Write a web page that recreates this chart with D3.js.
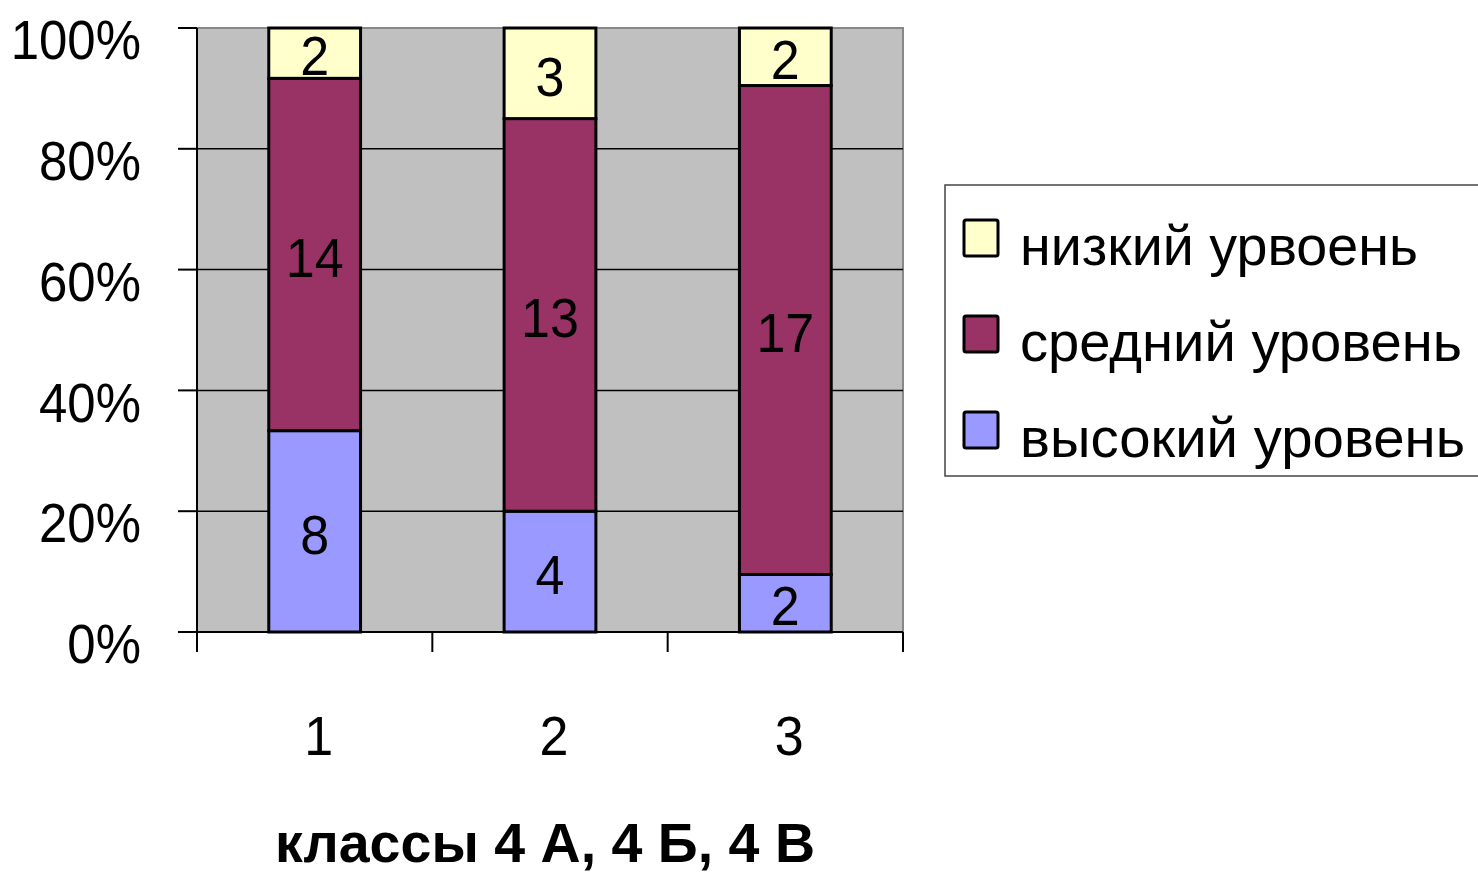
<!DOCTYPE html>
<html><head><meta charset="utf-8">
<script src="https://cdn.jsdelivr.net/npm/d3@7"></script>
<style>body{margin:0;background:#fff}svg{display:block}text{font-family:"Liberation Sans",Arial,sans-serif}</style>
</head><body>
<svg id="c" width="1478" height="873"></svg>
<script>
const categories = ["1","2","3"];
const seriesNames = ["высокий уровень","средний уровень","низкий урвоень"];
const high = [8,4,2];
const mid = [14,13,17];
const low = [2,3,2];
const yTicks = [0,0.2,0.4,0.6,0.8,1];
const colors = ["#9999FF","#993366","#FFFFCC"];
const xTitle = "классы 4 А, 4 Б, 4 В";

const svg = d3.select("#c");
const L=197, R=903, T=28, B=632;
const x = d3.scaleBand().domain(categories).range([L,R]).paddingInner(0.61).paddingOuter(0.305);
const y = d3.scaleLinear().domain([0,1]).range([B,T]);

svg.append("rect").attr("x",L).attr("y",T).attr("width",R-L).attr("height",B-T).attr("fill","#C0C0C0");
svg.append("path").attr("d",`M${L},${T}H${R}V${B}`).attr("fill","none").attr("stroke","#888").attr("stroke-width",2);

svg.append("g").selectAll("line").data(yTicks.slice(1,-1)).join("line")
  .attr("x1",L).attr("x2",R).attr("y1",d=>y(d)).attr("y2",d=>y(d)).attr("stroke","#000").attr("stroke-width",1.5);

const rows = categories.map((c,i)=>({cat:c, vals:[high[i],mid[i],low[i]]}));
const stackData = rows.map(r=>{const tot=d3.sum(r.vals);let acc=0;return r.vals.map((v,k)=>{const s={cat:r.cat,k,v,y0:acc/tot,y1:(acc+v)/tot};acc+=v;return s;});}).flat();

const g = svg.append("g");
g.selectAll("rect").data(stackData).join("rect")
  .attr("x",d=>x(d.cat)).attr("width",x.bandwidth())
  .attr("y",d=>y(d.y1)).attr("height",d=>y(d.y0)-y(d.y1))
  .attr("fill",d=>colors[d.k]).attr("stroke","#000").attr("stroke-width",3);
g.selectAll("text").data(stackData).join("text")
  .attr("x",d=>x(d.cat)+x.bandwidth()/2).attr("y",d=>(y(d.y0)+y(d.y1))/2+2)
  .attr("dy","0.36em").attr("text-anchor","middle").attr("font-size",52).attr("fill","#000")
  .attr("transform-origin",d=>`${x(d.cat)+x.bandwidth()/2} ${(y(d.y0)+y(d.y1))/2+2}`)
  .attr("transform","scale(1,1.08)")
  .text(d=>d.v);

svg.append("line").attr("x1",L).attr("x2",L).attr("y1",T).attr("y2",B+20).attr("stroke","#000").attr("stroke-width",2);
svg.append("line").attr("x1",L).attr("x2",R).attr("y1",B).attr("y2",B).attr("stroke","#000").attr("stroke-width",2);
svg.append("g").selectAll("line").data(yTicks).join("line")
  .attr("x1",178).attr("x2",L).attr("y1",d=>y(d)).attr("y2",d=>y(d)).attr("stroke","#000").attr("stroke-width",2);
svg.append("g").selectAll("text").data(yTicks).join("text")
  .attr("x",141).attr("y",d=>y(d)+11).attr("dy","0.36em").attr("text-anchor","end")
  .attr("font-size",52).attr("transform-origin",d=>`141 ${y(d)+11}`).attr("transform","scale(0.98,1.08)")
  .text(d=>d3.format(".0%")(d));

const bounds = [L, ...categories.map(c=>x(c)-x.step()*x.paddingInner()/2+x.step())];
svg.append("g").selectAll("line").data(bounds).join("line")
  .attr("x1",d=>d).attr("x2",d=>d).attr("y1",B).attr("y2",B+20).attr("stroke","#000").attr("stroke-width",2);
svg.append("g").selectAll("text").data(categories).join("text")
  .attr("x",d=>x(d)+x.bandwidth()/2+4).attr("y",735).attr("dy","0.36em").attr("text-anchor","middle")
  .attr("font-size",52).attr("transform-origin",d=>`${x(d)+x.bandwidth()/2+4} 735`).attr("transform","scale(1,1.08)")
  .text(d=>d);
svg.append("text").attr("x",275).attr("y",862).attr("font-size",54).attr("font-weight","bold")
  .attr("textLength",540).attr("lengthAdjust","spacingAndGlyphs")
  .attr("transform-origin","275 862").attr("transform","scale(1,1.04)").text(xTitle);

const lg = svg.append("g");
lg.append("rect").attr("x",945).attr("y",185).attr("width",560).attr("height",291).attr("fill","#fff").attr("stroke","#444").attr("stroke-width",1.5);
const legOrder=[2,1,0];
const legLen = {2:398,1:442,0:445};
legOrder.forEach((k,i)=>{
  const cy = 238 + i*96;
  lg.append("rect").attr("x",964).attr("y",cy-18).attr("width",34).attr("height",36).attr("fill",colors[k]).attr("stroke","#000").attr("stroke-width",3).attr("rx",2);
  lg.append("text").attr("x",1020).attr("y",cy+27).attr("font-size",52)
    .attr("textLength",legLen[k]).attr("lengthAdjust","spacingAndGlyphs")
    .attr("transform-origin",`1020 ${cy+27}`).attr("transform","scale(1,1.08)").text(seriesNames[k]);
});
</script>
</body></html>
